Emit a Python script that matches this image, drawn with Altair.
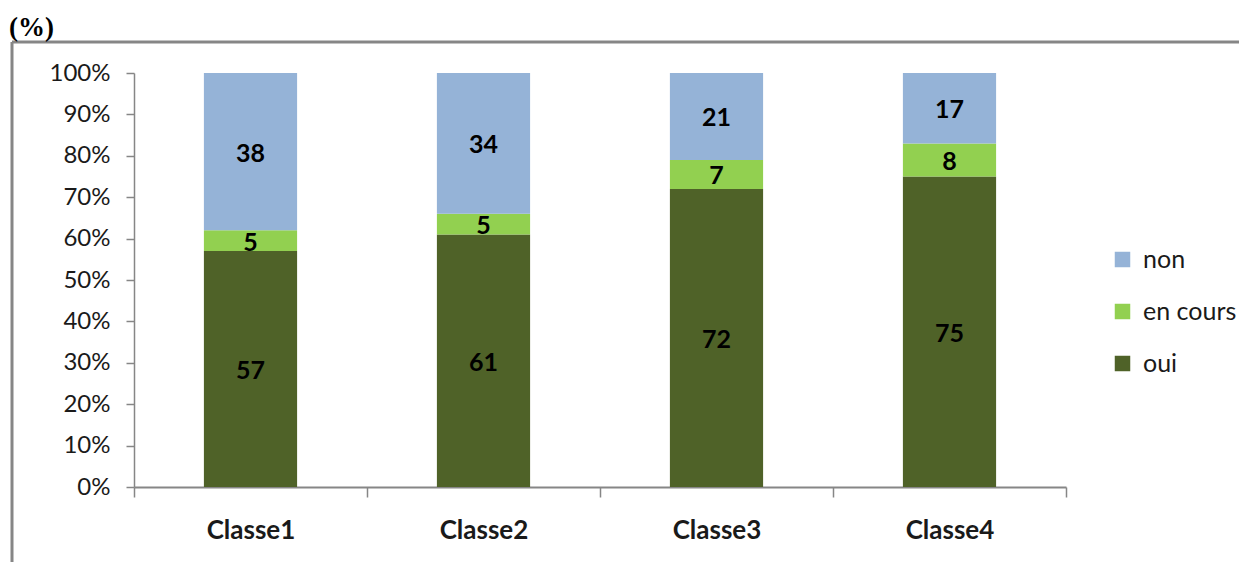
import altair as alt
import pandas as pd

categories = ["Classe1", "Classe2", "Classe3", "Classe4"]
oui = [57, 61, 72, 75]
en_cours = [5, 5, 7, 8]
non = [38, 34, 21, 17]
series = ["non", "en cours", "oui"]
colors = ["#95B3D7", "#92D050", "#4F6228"]
y_ticks = [0, 0.1, 0.2, 0.3, 0.4, 0.5, 0.6, 0.7, 0.8, 0.9, 1.0]

rows = []
for i, c in enumerate(categories):
    for s, vals, o in [("oui", oui, 0), ("en cours", en_cours, 1), ("non", non, 2)]:
        rows.append({"cat": c, "serie": s, "val": vals[i], "ord": o})
df = pd.DataFrame(rows)

W, H = 932, 414
FONT = "Lato"
GRAY = "#868686"

base = alt.Chart(df).transform_stack(
    stack="val", as_=["y0", "y1"], groupby=["cat"],
    sort=[alt.SortField("ord", order="ascending")], offset="normalize"
).transform_calculate(ym="(datum.y0 + datum.y1) / 2")

x_enc = alt.X(
    "cat:N", sort=categories,
    scale=alt.Scale(paddingInner=0, paddingOuter=0),
    axis=alt.Axis(title=None, labelAngle=0, tickBand="extent", domainColor=GRAY,
                  tickColor=GRAY, tickSize=10, domainWidth=2, tickWidth=1.5,
                  labelFont=FONT, labelFontWeight="bold", labelFontSize=26,
                  labelColor="#1a1a1a", labelPadding=20),
)

bars = base.mark_bar(width=alt.RelativeBandSize(0.4)).encode(
    x=x_enc,
    y=alt.Y("y0:Q", scale=alt.Scale(domain=[0, 1], nice=False),
            axis=alt.Axis(title=None, format=".0%", values=y_ticks, grid=False,
                          domainColor=GRAY, tickColor=GRAY, tickSize=8,
                          domainWidth=1.5, tickWidth=1.5,
                          labelFont=FONT, labelFontSize=24, labelColor="#1a1a1a",
                          labelPadding=16)),
    y2="y1:Q",
    color=alt.Color("serie:N", scale=alt.Scale(domain=series, range=colors),
                    legend=alt.Legend(title=None, orient="none", legendX=976, legendY=174,
                                      symbolType="square", symbolSize=240,
                                      symbolStrokeWidth=0, labelFont=FONT,
                                      labelFontSize=25, labelColor="#1a1a1a",
                                      rowPadding=26, padding=0, labelOffset=8)),
)

labels = base.mark_text(font=FONT, fontWeight="bold", fontSize=25, color="black",
                        baseline="middle", dy=2).encode(
    x=alt.X("cat:N", sort=categories),
    y=alt.Y("ym:Q"),
    text=alt.Text("val:Q"),
)

one = pd.DataFrame({"a": [0]})
frame_top = alt.Chart(one).mark_rule(color=GRAY, strokeWidth=3).encode(
    x=alt.value(-122), x2=alt.value(1140), y=alt.value(-31))
frame_left = alt.Chart(one).mark_rule(color=GRAY, strokeWidth=3).encode(
    x=alt.value(-122), y=alt.value(-31), y2=alt.value(540))
pct = alt.Chart(one).mark_text(font="Liberation Serif", fontWeight="bold", fontSize=27,
                               align="left", baseline="alphabetic", color="black").encode(
    x=alt.value(-125), y=alt.value(-37), text=alt.value("(%)"))

chart = alt.layer(bars, labels, frame_top, frame_left, pct).properties(
    width=W, height=H,
    autosize=alt.AutoSizeParams(type="none"),
    padding={"left": 126, "top": 65, "right": 173, "bottom": 75},
).configure_view(stroke=None)

chart.save("out.html", embed_options={"renderer": "svg", "actions": False})
